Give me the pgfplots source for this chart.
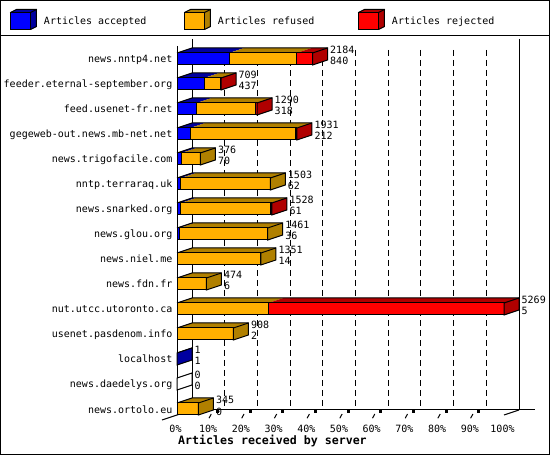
\documentclass[border=0pt]{standalone}
\usepackage{pgfplots}
\pgfplotsset{compat=1.18}
\usepackage{pgfplotstable}
\usepackage{fontspec}
\newfontfamily\gdfont{DejaVu Sans Mono}
\newcommand\gd{\gdfont\fontsize{10bp}{12bp}\selectfont}
\newcommand\gdb{\gdfont\bfseries\fontsize{11.6bp}{13bp}\selectfont}

\definecolor{cA}{HTML}{0000FF}\definecolor{dA}{HTML}{0000A0}
\definecolor{cR}{HTML}{FFB000}\definecolor{dR}{HTML}{B08000}
\definecolor{cJ}{HTML}{FF0000}\definecolor{dJ}{HTML}{B00000}

\pgfplotstableread[col sep=comma]{
name,total,acc,ref,rej
news.nntp4.net,2184,840,1086,258
feeder.eternal-september.org,709,437,256,16
feed.usenet-fr.net,1290,318,945,27
gegeweb-out.news.mb-net.net,1931,212,1705,14
news.trigofacile.com,376,70,306,0
nntp.terraraq.uk,1503,62,1441,0
news.snarked.org,1528,61,1449,18
news.glou.org,1461,36,1425,0
news.niel.me,1351,14,1337,0
news.fdn.fr,474,6,468,0
nut.utcc.utoronto.ca,5269,5,1466,3798
usenet.pasdenom.info,908,2,906,0
localhost,1,1,0,0
news.daedelys.org,0,0,0,0
news.ortolo.eu,345,0,345,0
}\datatable

% depth offsets (axis units): 15px in x, 5px in y; half bar height 6px
\def\DX{241.7}
\def\DY{0.2}
\def\HH{0.24}

\tikzset{numlab/.style={anchor=base west,inner sep=0pt,font=\gd},
         catlab/.style={anchor=base east,inner sep=0pt,font=\gd}}

\newcommand\legcube[2]{%
  \fill[#2] (0bp,8.5bp) -- (6bp,11.5bp) -- (26bp,11.5bp) -- (20bp,8.5bp) -- cycle;
  \fill[#2] (20bp,8.5bp) -- (26bp,11.5bp) -- (26bp,-5.5bp) -- (20bp,-8.5bp) -- cycle;
  \fill[#1] (0bp,-8.5bp) rectangle (20bp,8.5bp);
  \draw[line width=1bp,line join=miter] (0bp,-8.5bp) rectangle (20bp,8.5bp);
  \draw[line width=1bp] (0bp,8.5bp) -- (6bp,11.5bp) -- (26bp,11.5bp) -- (26bp,-5.5bp) -- (20bp,-8.5bp);
  \draw[line width=1bp] (20bp,8.5bp) -- (26bp,11.5bp);
}

\newcommand\barseg[4]{%
  \pgfmathsetmacro\segw{#2-#1}%
  \ifdim\segw pt>0.001pt
    \pgfmathsetmacro\ax{#1}\pgfmathsetmacro\bx{#2}%
    \pgfmathsetmacro\axd{#1+\DX}\pgfmathsetmacro\bxd{#2+\DX}%
    \edef\tmp{\noexpand\addplot[fill=#4,draw=none,mark=none,forget plot] coordinates {(\ax,\yt) (\axd,\ytb) (\bxd,\ytb) (\bx,\yt) (\ax,\yt)};%
      \noexpand\addplot[fill=#3,draw=black,line width=1bp,line join=miter,mark=none,forget plot] coordinates {(\ax,\yt) (\bx,\yt) (\bx,\yb) (\ax,\yb) (\ax,\yt)};}%
    \tmp
  \fi}

\begin{document}
\begin{tikzpicture}
\begin{axis}[at={(0,0)},anchor=south west,scale only axis,
  width=550bp,height=455bp,
  xmin=-2852.03,xmax=6010.2,ymin=-15.84,ymax=2.36,
  axis line style={draw=none},major tick length=0pt,
  ytick=\empty,
  xtick={0,526.9,1053.8,1580.7,2107.6,2634.5,3161.4,3688.3,4215.2,4742.1,5269},
  xticklabels={0\%,10\%,20\%,30\%,40\%,50\%,60\%,70\%,80\%,90\%,100\%},
  xticklabel style={font=\gd,anchor=base,inner sep=0pt,yshift=23bp,xshift=-1.5bp},
  xlabel={Articles received by server},
  xlabel style={at={(axis description cs:0.3236,0.022)},anchor=base west,inner sep=0pt,font=\gdb},
  clip=false,
  legend columns=3,
  legend style={at={(axis description cs:0.01818,0.95714)},anchor=west,draw=none,fill=none,
    inner sep=0pt,outer sep=0pt,font=\gd,nodes={inner sep=0pt},
    /tikz/every odd column/.append style={column sep=7bp},
    /tikz/every even column/.append style={column sep=0bp}},
]
\addlegendimage{legend image code/.code={\legcube{cA}{dA}}}
\addlegendentry{\makebox[140bp][l]{Articles accepted}}
\addlegendimage{legend image code/.code={\legcube{cR}{dR}}}
\addlegendentry{\makebox[140bp][l]{Articles refused}}
\addlegendimage{legend image code/.code={\legcube{cJ}{dJ}}}
\addlegendentry{\makebox[140bp][l]{Articles rejected}}

% back wall, grid and floor
\draw[line width=1bp] (axis cs:0,0.52) -- (axis cs:0,-14.24);
\draw[line width=1bp] (axis cs:241.7,0.8) -- (axis cs:241.7,-14.04);
\draw[line width=1bp] (axis cs:5510.7,0.8) -- (axis cs:5510.7,-14.04);
\pgfplotsinvokeforeach{1,...,9}{
  \draw[line width=1bp,dash pattern=on 6bp off 4bp] (axis cs:{241.7+526.9*#1},0.36) -- (axis cs:{241.7+526.9*#1},-14.04);
  \draw[line width=1bp] (axis cs:{526.9*#1-11.3},-14.37) -- (axis cs:{526.9*#1+25.8},-14.2);
  \fill (axis cs:{526.9*#1+98.3},-14.18) rectangle (axis cs:{526.9*#1+146.7},-14.06);
}
\draw[line width=1bp] (axis cs:241.7,-14.04) -- (axis cs:5768.5,-14.04);
\draw[line width=1bp] (axis cs:-241.7,-14.44) -- (axis cs:241.7,-14.04);
\draw[line width=1bp] (axis cs:5269,-14.24) -- (axis cs:5510.7,-14.04);

\pgfplotsinvokeforeach{0,...,14}{%
  \pgfplotstablegetelem{#1}{name}\of\datatable \edef\vN{\pgfplotsretval}%
  \pgfplotstablegetelem{#1}{total}\of\datatable \edef\vT{\pgfplotsretval}%
  \pgfplotstablegetelem{#1}{acc}\of\datatable \edef\vA{\pgfplotsretval}%
  \pgfplotstablegetelem{#1}{ref}\of\datatable \edef\vR{\pgfplotsretval}%
  \pgfplotstablegetelem{#1}{rej}\of\datatable \edef\vJ{\pgfplotsretval}%
  \pgfmathsetmacro\yc{-#1}%
  \pgfmathsetmacro\yt{\yc+\HH}%
  \pgfmathsetmacro\yb{\yc-\HH}%
  \pgfmathsetmacro\ytb{\yt+\DY}%
  \pgfmathsetmacro\ybb{\yb+\DY}%
  \pgfmathsetmacro\xA{\vA}%
  \pgfmathsetmacro\xB{\vA+\vR}%
  \pgfmathsetmacro\xC{\vA+\vR+\vJ}%
  \pgfmathsetmacro\xCd{\xC+\DX}%
  \barseg{0}{\xA}{cA}{dA}%
  \barseg{\xA}{\xB}{cR}{dR}%
  \barseg{\xB}{\xC}{cJ}{dJ}%
  \def\sidecol{white}%
  \ifdim\vA pt>0pt \def\sidecol{dA}\fi
  \ifdim\vR pt>0pt \def\sidecol{dR}\fi
  \ifdim\vJ pt>0pt \def\sidecol{dJ}\fi
  \ifdim\xC pt>0pt
    \edef\tmp{\noexpand\addplot[draw=black,line width=1bp,mark=none,forget plot] coordinates {(0,\yt) (\DX,\ytb) (\xCd,\ytb)};}\tmp
  \fi
  \edef\tmp{\noexpand\addplot[fill=\sidecol,draw=black,line width=1bp,line join=miter,mark=none,forget plot] coordinates {(\xC,\yt) (\xCd,\ytb) (\xCd,\ybb) (\xC,\yb) (\xC,\yt)};}\tmp
  \pgfmathsetmacro\xl{\xC+\DX+40}%
  \pgfmathsetmacro\ylA{\yc+0.2}%
  \pgfmathsetmacro\ylB{\yc-0.24}%
  \pgfmathsetmacro\ylN{\yc-0.16}%
  \edef\tmp{\noexpand\node[numlab] at (axis cs:\xl,\ylA) {\vT};%
    \noexpand\node[numlab] at (axis cs:\xl,\ylB) {\vA};%
    \noexpand\node[catlab] at (axis cs:-72.5,\ylN) {\vN};}\tmp
}
\end{axis}
\draw[line width=1bp] (0.5bp,0.5bp) rectangle (549.5bp,454.5bp);
\draw[line width=1bp] (0bp,419.5bp) -- (550bp,419.5bp);
\pgfresetboundingbox
\path (0,0) rectangle (550bp,455bp);
\end{tikzpicture}
\end{document}
